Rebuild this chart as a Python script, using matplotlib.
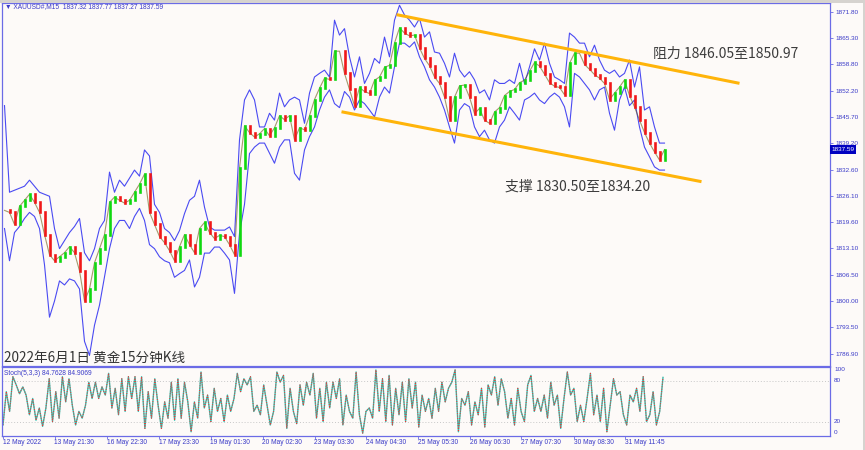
import matplotlib.pyplot as plt
import numpy as np
from matplotlib.patches import Rectangle

plt.rcParams['font.family'] = ['Noto Sans CJK SC', 'DejaVu Sans']

closes = [
    1822.5, 1822.0, 1819.0, 1823.5, 1825.0, 1826.5, 1824.5, 1822.0, 1816.5, 1811.5,
    1810.0, 1811.0, 1812.0, 1813.5, 1812.0, 1807.5, 1800.0, 1803.0, 1809.5, 1813.0,
    1816.5, 1824.5, 1825.8, 1825.0, 1824.3, 1825.0, 1827.0, 1829.0, 1831.5, 1822.0,
    1819.0, 1816.0, 1814.5, 1812.5, 1810.0, 1813.5, 1816.5, 1814.0, 1812.0, 1818.0,
    1819.5, 1817.0, 1815.5, 1816.3, 1816.0, 1814.0, 1811.5, 1833.0, 1843.5, 1841.8,
    1840.7, 1841.5, 1842.8, 1841.0, 1843.0, 1846.0, 1845.0, 1846.0, 1840.0, 1843.0,
    1842.5, 1846.0, 1850.0, 1852.8, 1855.3, 1855.0, 1862.0, 1862.0, 1856.5, 1852.5,
    1848.5, 1853.0, 1852.0, 1851.5, 1854.8, 1855.6, 1858.0, 1858.5, 1864.0, 1867.8,
    1866.5, 1865.8, 1866.0, 1862.8, 1860.2, 1858.4, 1855.6, 1854.0, 1850.6, 1845.0,
    1850.6, 1853.4, 1853.6, 1850.6, 1846.5, 1847.8, 1844.9, 1844.1, 1846.9, 1848.0,
    1851.0, 1852.0, 1852.5, 1854.2, 1854.8, 1857.0, 1859.2, 1858.3, 1856.3, 1854.2,
    1853.3, 1853.0, 1851.2, 1859.0, 1861.5, 1861.5, 1858.7, 1857.5, 1856.2, 1855.3,
    1854.0, 1850.0, 1851.6, 1853.1, 1854.9, 1851.0, 1848.2, 1844.9, 1841.8, 1839.2,
    1837.0, 1835.0, 1837.59,
]

upper_band = [
    1848.5, 1827.0, 1827.5, 1828.0, 1828.5, 1830.0, 1828.5, 1827.0, 1826.5, 1826.0,
    1818.0, 1813.0, 1815.0, 1817.0, 1818.5, 1820.5, 1812.0, 1810.0, 1813.0, 1818.0,
    1820.0, 1832.0, 1827.0, 1830.0, 1828.5, 1830.5, 1832.5, 1831.0, 1837.5, 1836.0,
    1824.0, 1822.0, 1818.0, 1817.0, 1815.0, 1817.5, 1821.7, 1825.0, 1826.0, 1830.0,
    1823.3, 1818.4, 1817.6, 1817.6, 1817.6, 1818.4, 1816.0, 1840.0, 1849.9, 1852.4,
    1849.9, 1843.2, 1843.2, 1846.6, 1844.9, 1851.6, 1848.2, 1849.9, 1850.6, 1849.9,
    1844.1, 1851.6, 1855.6, 1856.5, 1857.3, 1855.6, 1869.7, 1866.0, 1867.6, 1860.6,
    1855.6, 1860.6, 1854.0, 1856.5, 1860.2, 1859.0, 1865.5, 1860.6, 1869.7, 1873.4,
    1871.0, 1869.7, 1868.0, 1870.1, 1865.5, 1866.8, 1861.8, 1861.5, 1859.0, 1855.6,
    1861.5, 1857.3, 1855.6, 1856.9, 1854.9, 1851.6, 1852.4, 1849.9, 1854.9, 1854.0,
    1854.0, 1854.9, 1854.0, 1859.0, 1854.0, 1858.1, 1862.6, 1859.8, 1864.0, 1859.0,
    1855.6, 1854.9, 1854.0, 1866.5, 1865.5, 1864.0, 1864.0, 1860.6, 1863.5, 1859.8,
    1857.3, 1856.5, 1857.3, 1855.6, 1856.5, 1859.8, 1853.1, 1858.1, 1847.4, 1848.2,
    1843.2, 1839.2, 1839.2,
]

lower_band = [
    1818.0, 1810.0, 1817.0, 1818.5, 1820.5, 1822.0, 1821.0, 1818.0, 1809.0, 1796.0,
    1800.0, 1805.0, 1804.0, 1805.5, 1805.0, 1803.0, 1790.0, 1786.5, 1794.0, 1799.0,
    1806.0, 1813.0, 1818.0, 1820.0, 1820.0, 1818.0, 1821.0, 1823.0, 1820.0, 1814.0,
    1813.0, 1811.0, 1810.0, 1809.5, 1805.9, 1806.8, 1807.6, 1810.2, 1803.5, 1805.9,
    1811.9, 1811.9, 1813.4, 1813.4, 1811.9, 1810.2, 1801.9, 1816.8, 1824.0, 1836.6,
    1838.2, 1839.2, 1839.2, 1836.7, 1834.2, 1838.2, 1840.0, 1840.0, 1831.7, 1830.0,
    1837.5, 1840.8, 1843.2, 1847.4, 1850.6, 1852.4, 1849.0, 1848.0, 1852.0, 1850.6,
    1847.4, 1849.9, 1849.0, 1847.4, 1845.7, 1850.6, 1853.1, 1851.6, 1858.1, 1864.0,
    1864.0, 1863.0, 1864.3, 1860.6, 1858.1, 1854.9, 1853.1, 1850.6, 1847.4, 1843.2,
    1839.2, 1847.4, 1849.0, 1848.2, 1843.2, 1840.8, 1842.4, 1840.0, 1839.2, 1843.2,
    1844.9, 1848.2, 1846.6, 1844.9, 1849.9, 1850.6, 1851.6, 1849.9, 1849.0, 1850.6,
    1851.6, 1850.6, 1848.2, 1843.2, 1856.5, 1855.6, 1854.0, 1852.4, 1849.9, 1852.4,
    1853.1, 1846.6, 1842.4, 1849.9, 1853.1, 1848.5, 1849.9, 1843.2, 1838.2, 1835.8,
    1833.3, 1832.5, 1832.5,
]

# Stoch(5,3,3) main line, turning points from left to right
stoch_main = [
    15, 64, 35, 86, 74, 61, 71, 59, 30, 54, 22, 40, 13, 40, 83, 20, 64, 25, 86, 49,
    83, 44, 15, 35, 25, 44, 78, 54, 78, 54, 71, 59, 91, 40, 69, 30, 83, 35, 86, 54,
    86, 35, 86, 10, 64, 25, 83, 44, 10, 49, 25, 78, 22, 83, 25, 78, 49, 5, 49, 25,
    93, 40, 59, 20, 69, 35, 54, 20, 59, 35, 54, 91, 64, 83, 74, 86, 35, 44, 30, 74,
    44, 15, 35, 93, 78, 88, 10, 69, 35, 17, 74, 44, 78, 59, 91, 25, 69, 20, 78, 40,
    78, 54, 83, 15, 59, 35, 25, 93, 30, 3, 35, 40, 25, 96, 35, 83, 20, 88, 15, 69,
    30, 78, 20, 83, 40, 78, 12, 59, 35, 54, 25, 69, 35, 78, 49, 69, 78, 96, 5, 54,
    44, 64, 15, 49, 30, 69, 12, 74, 59, 86, 44, 83, 64, 25, 54, 15, 69, 35, 20, 74,
    88, 35, 54, 35, 59, 25, 78, 44, 59, 10, 54, 93, 59, 69, 20, 44, 20, 54, 91, 30,
    59, 20, 69, 5, 44, 83, 59, 64, 30, 15, 59, 49, 69, 35, 86, 20, 30, 64, 15, 35, 85,
]

price_ticks = [1871.80, 1865.30, 1858.80, 1852.20, 1845.70, 1839.20, 1832.60,
               1826.10, 1819.60, 1813.10, 1806.50, 1800.00, 1793.50, 1786.90]
stoch_ticks = [100, 80, 20, 0]
time_labels = ['12 May 2022', '13 May 21:30', '16 May 22:30', '17 May 23:30',
               '19 May 01:30', '20 May 02:30', '23 May 03:30', '24 May 04:30',
               '25 May 05:30', '26 May 06:30', '27 May 07:30', '30 May 08:30',
               '31 May 11:45']
time_label_bars = [-0.3, 10.0, 20.5, 30.9, 41.2, 51.6, 62.0, 72.3, 82.7,
                   93.1, 103.3, 113.8, 124.1]

# trend lines drawn on the chart (bar index, price)
res_bars, res_prices = [78.7, 146.7], [1871.0, 1854.1]
sup_bars, sup_prices = [67.7, 139.1], [1846.9, 1829.7]
res_text = '阻力 1846.05至1850.97'
sup_text = '支撑 1830.50至1834.20'
last_price = 1837.59
header = '▼ XAUUSD#,M15  1837.32 1837.77 1837.27 1837.59'

bg = '#fdfaf8'
frame = '#6b6be6'
blue_txt = '#3a3ac8'
small_font = ['Liberation Sans', 'DejaVu Sans']

fig = plt.figure(figsize=(8.65, 4.5), dpi=100, facecolor=bg)
ax = fig.add_axes([2 / 865, 1 - 365.7 / 450, 828 / 865, 362.7 / 450], facecolor=bg)
ax2 = fig.add_axes([2 / 865, 1 - 436 / 450, 828 / 865, 69 / 450], facecolor=bg)

# candles
bars = np.arange(len(closes))
opens = [closes[0]] + closes[:-1]
cols = ['#10d810' if c >= o else '#f01818' for o, c in zip(opens, closes)]
ax.plot(bars, closes, color='#6a5a10', lw=0.8, alpha=0.6, zorder=3)
body = ax.vlines(bars, np.minimum(opens, closes), np.maximum(opens, closes),
                 colors=cols, lw=1.9, zorder=3)
body.set_capstyle('projecting')

# bands
ax.plot(bars, upper_band, color='#4a4af2', lw=0.8, zorder=2)
ax.plot(bars, lower_band, color='#4a4af2', lw=0.8, zorder=2)

# channel
ax.plot(res_bars, res_prices, color='#ffb40a', lw=2.2, zorder=4)
ax.plot(sup_bars, sup_prices, color='#ffb40a', lw=2.2, zorder=4)
ax.text(129.7, 1861.3, res_text, fontsize=10, color='#3c3c3c', va='center', ha='left')
ax.text(100.1, 1828.3, sup_text, fontsize=10, color='#3c3c3c', va='center', ha='left')

ax.set_xlim(-0.5, 165.1)
ax.set_ylim(1783.96, 1873.96)
ax.set_xticks([])
ax.yaxis.tick_right()
ax.set_yticks(price_ticks)
ax.set_yticklabels(['%.2f' % p for p in price_ticks])
ax.tick_params(axis='y', length=2.5, width=0.6, color=frame, labelcolor=blue_txt,
               labelsize=4.6, pad=1.5)
for lbl in ax.get_yticklabels():
    lbl.set_family(small_font)

ax.text(1.0015, last_price, '%.2f' % last_price, transform=ax.get_yaxis_transform(),
        fontsize=4.6, color='white', va='center', ha='left', family=small_font,
        bbox=dict(boxstyle='square,pad=0.25', fc='#0000c0', ec='none'),
        zorder=10, clip_on=False)

ax.text(0.004, 0.989, header, transform=ax.transAxes, fontsize=4.8,
        color=blue_txt, va='center', ha='left', family=small_font)
ax.text(0.003, 0.009, '2022年6月1日 黄金15分钟K线', transform=ax.transAxes,
        fontsize=9.8, color='#333333', va='baseline', ha='left')

# stochastic pane
sx = np.linspace(-0.3, 131.7, len(stoch_main))
for lvl in (80, 20):
    ax2.axhline(lvl, color='#c8c8c8', lw=0.7, dashes=(1, 2))
ax2.plot(sx, stoch_main, color='#2ec4b4', lw=1.0)
ax2.plot(sx, stoch_main, color='#ff2a2a', lw=0.7, dashes=(1, 1.5))
ax2.set_xlim(-0.5, 165.1)
ax2.set_ylim(-1.2, 100.3)
ax2.text(0.003, 0.913, 'Stoch(5,3,3) 84.7628 84.9069', transform=ax2.transAxes,
         fontsize=4.8, color=blue_txt, va='center', ha='left', family=small_font)
ax2.yaxis.tick_right()
ax2.set_yticks(stoch_ticks)
ax2.set_yticklabels([str(v) for v in stoch_ticks])
ax2.tick_params(axis='y', length=0, labelcolor=blue_txt, labelsize=4.6, pad=3)
for lbl, va in zip(ax2.get_yticklabels(), ['top', 'center', 'center', 'bottom']):
    lbl.set_family(small_font)
    lbl.set_verticalalignment(va)
ax2.set_xticks(time_label_bars)
ax2.set_xticklabels(time_labels, ha='left')
ax2.tick_params(axis='x', length=2, width=0.6, color=frame, labelcolor=blue_txt,
                labelsize=4.8, pad=0.5)
for lbl in ax2.get_xticklabels():
    lbl.set_family(small_font)

for a in (ax, ax2):
    for s in a.spines.values():
        s.set_color(frame)
        s.set_linewidth(0.9)

# window edges
fig.add_artist(Rectangle((862.5 / 865, 0), 2.5 / 865, 1, transform=fig.transFigure,
                         color='#d6d3cf', lw=0))
fig.add_artist(Rectangle((0, 447 / 450), 1, 3 / 450, transform=fig.transFigure,
                         color='#d6d3cf', lw=0))

fig.savefig('out.png', dpi=100, facecolor=bg)
